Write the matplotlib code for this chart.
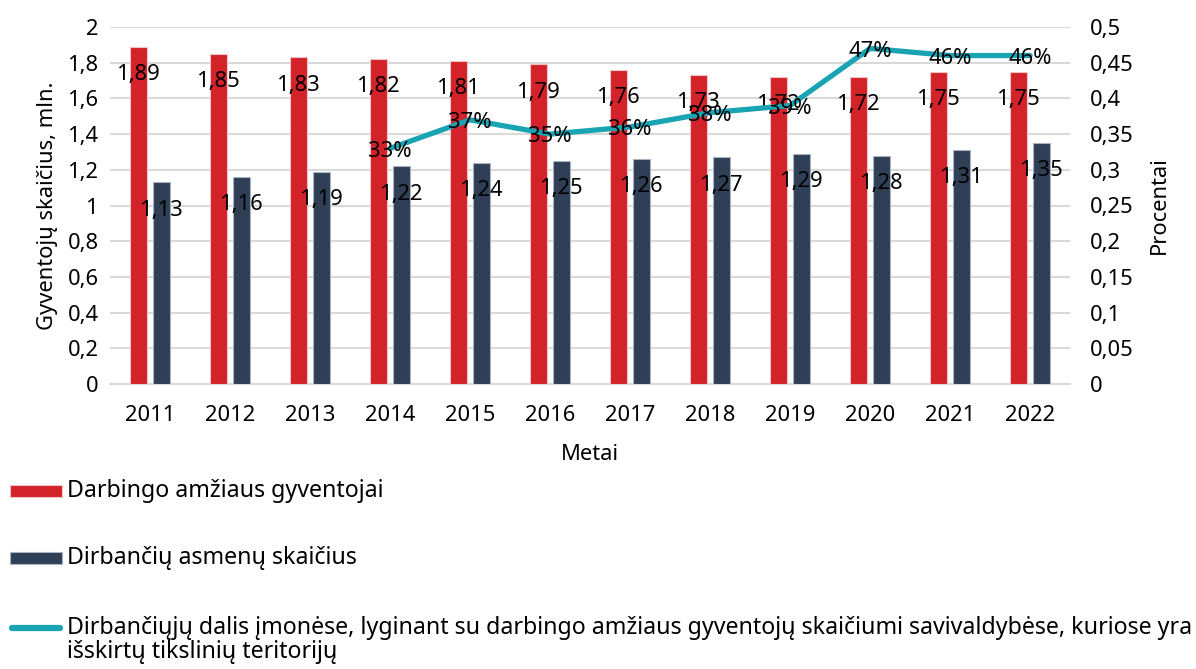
import matplotlib
matplotlib.use("Agg")
import matplotlib.pyplot as plt
import numpy as np
from matplotlib.patches import Rectangle
from matplotlib.lines import Line2D

plt.rcParams['font.family'] = ['Noto Sans', 'DejaVu Sans']

years = ["2011", "2012", "2013", "2014", "2015", "2016", "2017", "2018", "2019", "2020", "2021", "2022"]
working_age = [1.89, 1.85, 1.83, 1.82, 1.81, 1.79, 1.76, 1.73, 1.72, 1.72, 1.75, 1.75]
employed = [1.13, 1.16, 1.19, 1.22, 1.24, 1.25, 1.26, 1.27, 1.29, 1.28, 1.31, 1.35]
share_years = ["2014", "2015", "2016", "2017", "2018", "2019", "2020", "2021", "2022"]
share = [0.33, 0.37, 0.35, 0.36, 0.38, 0.39, 0.47, 0.46, 0.46]

label_a = "Darbingo amžiaus gyventojai"
label_b = "Dirbančių asmenų skaičius"
label_c1 = "Dirbančiųjų dalis įmonėse, lyginant su darbingo amžiaus gyventojų skaičiumi savivaldybėse, kuriose yra"
label_c2 = "išskirtų tikslinių teritorijų"

RED = "#D3222A"
NAVY = "#2E3F56"
TEAL = "#1AA3B3"
GRID = "#D9D9D9"
FS = 15.8
LFS = 16.7

fig = plt.figure(figsize=(11.96, 6.69), dpi=100)
ax = fig.add_axes([110/1196, 1-384/669, 960/1196, 357/669])
ax2 = ax.twinx()

x = np.arange(len(years))
w = 0.21
off = 0.142
ba = ax.bar(x - off, working_age, w, color=RED, edgecolor="#F2C4C6", linewidth=0.8, zorder=3)
bb = ax.bar(x + off, employed, w, color=NAVY, edgecolor="#A9B3C2", linewidth=0.8, zorder=3)

def fmt(v):
    return f"{v:.2f}".replace(".", ",")

for b, v in zip(ba, working_age):
    ax.annotate(fmt(v), (b.get_x() + b.get_width()/2, v), xytext=(0, -20), textcoords="offset points",
                ha="center", va="center", fontsize=FS, color="black", zorder=5)
for b, v in zip(bb, employed):
    ax.annotate(fmt(v), (b.get_x() + b.get_width()/2, v), xytext=(0, -20), textcoords="offset points",
                ha="center", va="center", fontsize=FS, color="black", zorder=5)

sx = [years.index(y) for y in share_years]
ax2.plot(sx, share, color=TEAL, linewidth=3.8, solid_capstyle="round", zorder=4)
for xi, v in zip(sx, share):
    ax2.annotate(f"{round(v*100)}%", (xi, v), xytext=(0, -2), textcoords="offset points",
                 ha="center", va="center", fontsize=FS, color="black", zorder=6)

ax.set_xlim(-0.5, len(years) - 0.5)
ax.set_ylim(0, 2)
ax2.set_ylim(0, 0.5)
lt = np.arange(0, 2.01, 0.2)
ax.set_yticks(lt)
ax.set_yticklabels([("0" if abs(t) < 1e-9 else (f"{t:.1f}".rstrip("0").rstrip(".").replace(".", ","))) for t in lt])
rt = np.arange(0, 0.501, 0.05)
ax2.set_yticks(rt)
ax2.set_yticklabels([("0" if abs(t) < 1e-9 else f"{t:.2f}".rstrip("0").rstrip(".").replace(".", ",")) for t in rt])
ax.set_xticks(x)
ax.set_xticklabels(years)

ax.yaxis.grid(True, color=GRID, linewidth=1.5, zorder=0)
ax.set_axisbelow(True)
for a in (ax, ax2):
    for s in a.spines.values():
        s.set_visible(False)
    a.tick_params(length=0, labelsize=FS, colors="black")
ax.spines['bottom'].set_visible(True)
ax.spines['bottom'].set_color(GRID)
ax.spines['bottom'].set_linewidth(1.5)
ax.tick_params(axis='x', pad=15)
ax.tick_params(axis='y', pad=8)
ax2.tick_params(axis='y', pad=14)

ax.set_xlabel("Metai", fontsize=FS, labelpad=13)
ax.set_ylabel("Gyventojų skaičius, mln.", fontsize=FS, labelpad=7)
ax2.set_ylabel("Procentai", fontsize=FS, labelpad=11)

# legend (manual, left-aligned below the chart)
def fy(py):
    return 1 - py/669
def fx(px):
    return px/1196
fig.add_artist(Rectangle((fx(10), fy(497)), fx(52), 12/669, transform=fig.transFigure, facecolor=RED, edgecolor="#F2C4C6", lw=0.8))
fig.text(fx(67), fy(491), label_a, fontsize=LFS, va="center", ha="left")
fig.add_artist(Rectangle((fx(10), fy(564)), fx(52), 12/669, transform=fig.transFigure, facecolor=NAVY, edgecolor="#A9B3C2", lw=0.8))
fig.text(fx(67), fy(558), label_b, fontsize=LFS, va="center", ha="left")
fig.add_artist(Line2D([fx(12), fx(60)], [fy(628), fy(628)], transform=fig.transFigure, color=TEAL, lw=4.5, solid_capstyle="round"))
fig.text(fx(67), fy(628), label_c1, fontsize=LFS, va="center", ha="left")
fig.text(fx(67), fy(652), label_c2, fontsize=LFS, va="center", ha="left")

fig.savefig("out.png", dpi=100)
